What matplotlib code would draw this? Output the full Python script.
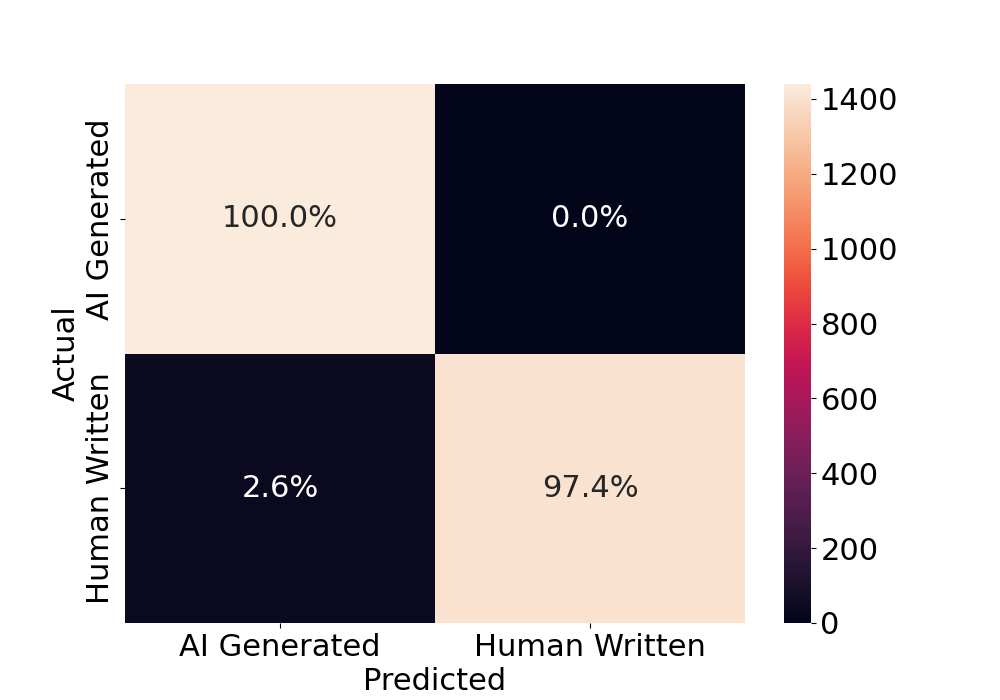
import matplotlib
matplotlib.use("Agg")
import matplotlib.pyplot as plt
import seaborn as sns
import numpy as np

labels = ["AI Generated", "Human Written"]
counts = np.array([[1440, 0], [38, 1402]])
pct = counts / counts.sum(axis=1, keepdims=True) * 100
annot = np.array([[f"{v:.1f}%" for v in row] for row in pct])

plt.rcParams['font.size'] = 22
fig = plt.figure(figsize=(10, 7), dpi=100)
ax = sns.heatmap(counts, annot=annot, fmt="", cmap="rocket",
                 xticklabels=labels, yticklabels=labels, annot_kws={"size": 22})
ax.set_xlabel("Predicted")
ax.set_ylabel("Actual")
fig.savefig("out.png", dpi=100)
